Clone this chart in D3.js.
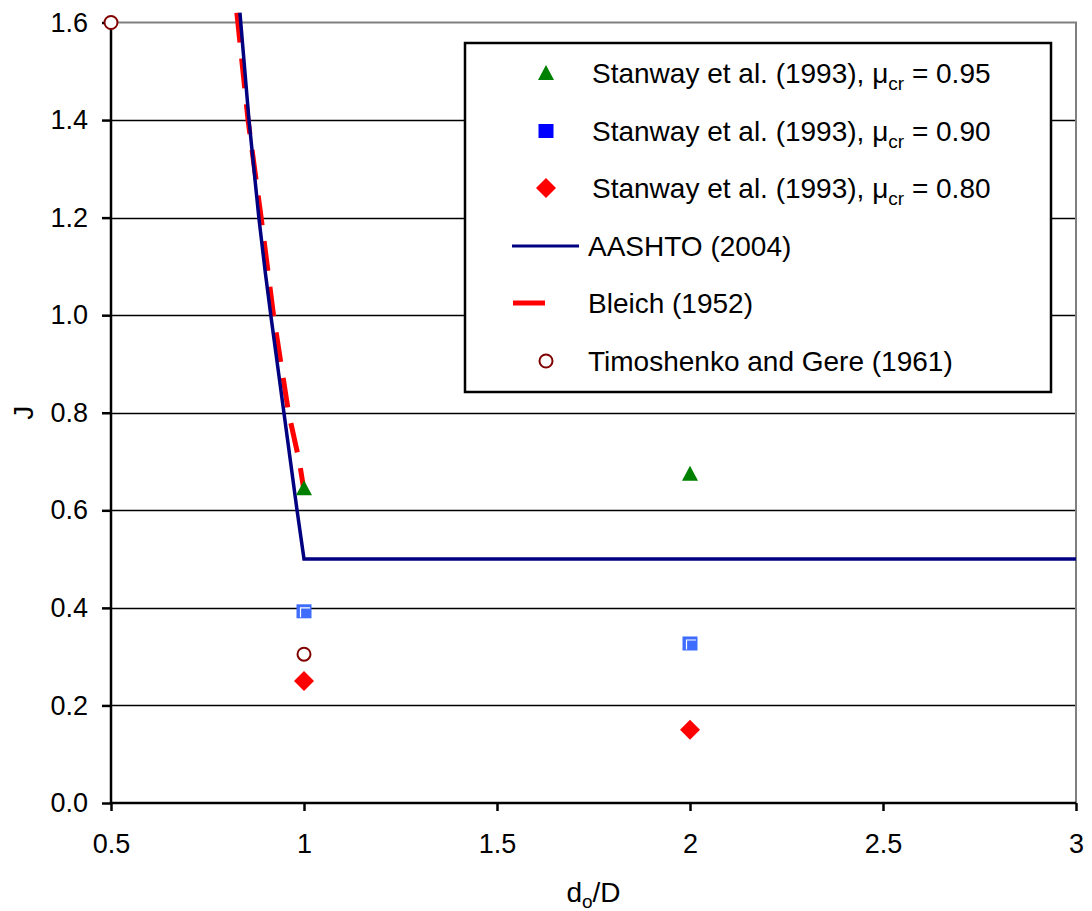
<!DOCTYPE html>
<html>
<head>
<meta charset="utf-8">
<script src="https://cdn.jsdelivr.net/npm/d3@7"></script>
<style>
  html, body { margin: 0; padding: 0; background: #fff; }
  svg { display: block; font-family: "Liberation Sans", Arial, sans-serif; }
</style>
</head>
<body>
<svg id="chart" width="1092" height="911"></svg>
<script>
// Web-opening depth ratio d_o/D versus the coefficient J
const xTicks = [0.5, 1, 1.5, 2, 2.5, 3];
const yTicks = [0.0, 0.2, 0.4, 0.6, 0.8, 1.0, 1.2, 1.4, 1.6];

// Test results (Stanway et al., 1993) for three values of mu_cr
const stanwayX = [1, 2];
const stanway095 = [0.645, 0.675];
const stanway090 = [0.393, 0.327];
const stanway080 = [0.250, 0.150];

// Timoshenko and Gere (1961)
const timoshenkoX = [0.5, 1];
const timoshenkoJ = [1.6, 0.305];

// AASHTO (2004) design curve
const aashtoX = [0.834, 0.8575, 0.883, 0.9, 0.914, 0.948, 0.982, 1.0, 3.0];
const aashtoJ = [1.62, 1.40, 1.20, 1.086, 1.00, 0.80, 0.60, 0.50, 0.50];

// Bleich (1952) curve
const bleichX = [0.826, 0.855, 0.889, 0.921, 0.960, 0.988, 0.998];
const bleichJ = [1.62, 1.40, 1.20, 1.00, 0.80, 0.70, 0.65];

const svg = d3.select("#chart");
const x = d3.scaleLinear().domain([0.5, 3]).range([111, 1076]);
const y = d3.scaleLinear().domain([0, 1.6]).range([803, 22.5]);
const TICK_FONT = 27;
const LEGEND_FONT = 28;

// Horizontal gridlines
svg.append("g")
  .selectAll("line")
  .data(yTicks.filter(d => d > 0 && d < 1.6))
  .join("line")
  .attr("x1", x(0.5)).attr("x2", x(3))
  .attr("y1", d => Math.round(y(d)) + 0.5).attr("y2", d => Math.round(y(d)) + 0.5)
  .attr("stroke", "#000").attr("stroke-width", 1.6);

// Plot-area border (top and right)
svg.append("path")
  .attr("d", `M${x(0.5)},${y(1.6)}H${x(3)}V${y(0)}`)
  .attr("fill", "none").attr("stroke", "#808080").attr("stroke-width", 2);

// Axes
const yAxis = svg.append("g")
  .attr("transform", `translate(${x(0.5)},0)`)
  .call(d3.axisLeft(y).tickValues(yTicks).tickFormat(d3.format(".1f")).tickSize(9).tickPadding(14));
const xAxis = svg.append("g")
  .attr("transform", `translate(0,${y(0)})`)
  .call(d3.axisBottom(x).tickValues(xTicks).tickFormat(d => String(d)).tickSize(8).tickPadding(23));
[yAxis, xAxis].forEach(g => {
  g.select(".domain").attr("stroke", "#000").attr("stroke-width", 2.5);
  g.selectAll(".tick line").attr("stroke", "#000").attr("stroke-width", 2.5);
  g.selectAll(".tick text").attr("fill", "#000").attr("font-size", TICK_FONT)
    .attr("font-family", "'Liberation Sans', Arial, sans-serif");
});
yAxis.select(".domain").attr("d", `M0,${y(0)}V${y(1.6)}`);
xAxis.select(".domain").attr("d", `M${x(0.5)},0H${x(3)}`);

// Axis titles
svg.append("text")
  .attr("transform", `translate(33,${(y(0) + y(1.6)) / 2}) rotate(-90)`)
  .attr("text-anchor", "middle").attr("font-size", LEGEND_FONT).text("J");
const xt = svg.append("text")
  .attr("x", (x(0.5) + x(3)) / 2).attr("y", 902)
  .attr("text-anchor", "middle").attr("font-size", LEGEND_FONT);
xt.append("tspan").text("d");
xt.append("tspan").attr("dy", 6).attr("font-size", 19).text("o");
xt.append("tspan").attr("dy", -6).text("/D");

// Curves
const line = d3.line().x(d => x(d[0])).y(d => y(d[1]));
svg.append("path")
  .datum(bleichX.map((v, i) => [v, bleichJ[i]]))
  .attr("d", line)
  .attr("fill", "none").attr("stroke", "#ff0000").attr("stroke-width", 5)
  .attr("stroke-dasharray", "30,16");
svg.append("path")
  .datum(aashtoX.map((v, i) => [v, aashtoJ[i]]))
  .attr("d", line)
  .attr("fill", "none").attr("stroke", "#000080").attr("stroke-width", 3.5)
  .attr("stroke-linejoin", "miter");

// Marker shapes
function triangle(g, cx, cy) {
  g.append("path").attr("d", `M${cx},${cy - 8}L${cx + 8},${cy + 7}L${cx - 8},${cy + 7}Z`).attr("fill", "#008000");
}
function square(g, cx, cy, fill, inner) {
  g.append("rect").attr("x", cx - 7.5).attr("y", cy - 7).attr("width", 15).attr("height", 14).attr("fill", fill);
  if (inner) {
    g.append("path").attr("d", `M${cx - 3.5},${cy + 6}V${cy - 3.5}H${cx + 6}`)
      .attr("fill", "none").attr("stroke", "#fff").attr("stroke-width", 1.2);
  }
}
function diamond(g, cx, cy) {
  g.append("path").attr("d", `M${cx},${cy - 10}L${cx + 10},${cy}L${cx},${cy + 10}L${cx - 10},${cy}Z`).attr("fill", "#ff0000");
}
function ring(g, cx, cy) {
  g.append("circle").attr("cx", cx).attr("cy", cy).attr("r", 6.5)
    .attr("fill", "#fff").attr("stroke", "#800000").attr("stroke-width", 2);
}

const marks = svg.append("g");
stanwayX.forEach((v, i) => triangle(marks, x(v), y(stanway095[i])));
stanwayX.forEach((v, i) => square(marks, x(v), y(stanway090[i]), "#3d6cff", true));
stanwayX.forEach((v, i) => diamond(marks, x(v), y(stanway080[i])));
timoshenkoX.forEach((v, i) => ring(marks, x(v), y(timoshenkoJ[i])));

// Legend
const lg = svg.append("g");
lg.append("rect").attr("x", 465).attr("y", 43).attr("width", 586).attr("height", 349)
  .attr("fill", "#fff").attr("stroke", "#000").attr("stroke-width", 2.5);
const rowY = [73, 131, 188, 246, 303, 361];
const mx = 546;
triangle(lg, mx, rowY[0]);
square(lg, mx, rowY[1], "#0000ff", false);
diamond(lg, mx, rowY[2]);
lg.append("line").attr("x1", 512).attr("x2", 579).attr("y1", rowY[3]).attr("y2", rowY[3])
  .attr("stroke", "#000080").attr("stroke-width", 3);
lg.append("line").attr("x1", 513).attr("x2", 545).attr("y1", rowY[4]).attr("y2", rowY[4])
  .attr("stroke", "#ff0000").attr("stroke-width", 5);
ring(lg, mx, rowY[5]);

const muLabels = ["0.95", "0.90", "0.80"];
muLabels.forEach((m, i) => {
  const t = lg.append("text").attr("x", 592).attr("y", rowY[i] + 10).attr("font-size", LEGEND_FONT);
  t.append("tspan").text("Stanway et al. (1993), μ");
  t.append("tspan").attr("dy", 7).attr("font-size", 19).text("cr");
  t.append("tspan").attr("dy", -7).text(" = " + m);
});
["AASHTO (2004)", "Bleich (1952)", "Timoshenko and Gere (1961)"].forEach((s, i) => {
  lg.append("text").attr("x", 588).attr("y", rowY[i + 3] + 10).attr("font-size", LEGEND_FONT).text(s);
});
</script>
</body>
</html>
